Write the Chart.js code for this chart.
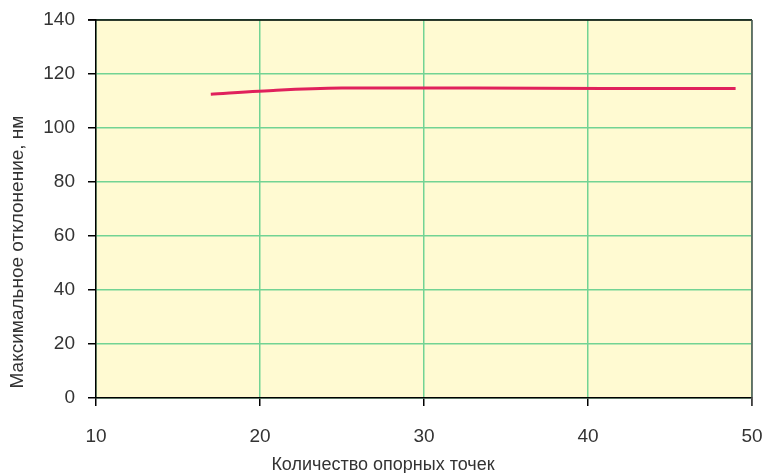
<!DOCTYPE html>
<html>
<head>
<meta charset="utf-8">
<script src="https://cdn.jsdelivr.net/npm/chart.js@4.4.0/dist/chart.umd.min.js"></script>
<style>
  body { margin: 0; background: #fff; }
  #c { display: block; }
</style>
</head>
<body>
<canvas id="c" width="766" height="473"></canvas>
<script>
// Number of reference points vs. max deviation
const pointCounts = [17, 21, 25, 33, 41, 49];
const maxDeviation = [112.5, 114, 114.8, 114.8, 114.6, 114.6];
const xTicks = [10, 20, 30, 40, 50];
const yTicks = [0, 20, 40, 60, 80, 100, 120, 140];
const xTitle = "Количество опорных точек";
const yTitle = "Максимальное отклонение, нм";

const font = "'Liberation Sans', sans-serif";
const gridGreen = "#72d394";

// background of plot area, top/right frame and axis titles
const frame = {
  id: "frame",
  beforeDraw(chart) {
    const { ctx, chartArea: a } = chart;
    ctx.save();
    ctx.fillStyle = "#fffad2";
    ctx.fillRect(a.left, a.top, a.right - a.left, a.bottom - a.top);
    ctx.restore();
  },
  afterDatasetsDraw(chart) {
    const { ctx, chartArea: a } = chart;
    ctx.save();
    ctx.lineWidth = 1.5;
    ctx.strokeStyle = "#000";
    ctx.beginPath();
    ctx.moveTo(a.left - 8, a.top);
    ctx.lineTo(a.right, a.top);
    ctx.stroke();
    ctx.strokeStyle = "#555";
    ctx.beginPath();
    ctx.moveTo(a.right, a.top);
    ctx.lineTo(a.right, a.bottom + 8);
    ctx.stroke();

    ctx.fillStyle = "#333";
    ctx.textAlign = "center";
    ctx.textBaseline = "middle";
    ctx.font = "18px " + font;
    ctx.fillText(xTitle, 383, 465);
    ctx.translate(18, 252);
    ctx.rotate(-Math.PI / 2);
    ctx.font = "19px " + font;
    ctx.fillText(yTitle, 0, 0);
    ctx.restore();
  },
};

new Chart(document.getElementById("c"), {
  type: "line",
  data: {
    datasets: [
      {
        data: pointCounts.map((x, i) => ({ x: x, y: maxDeviation[i] })),
        borderColor: "#e0215c",
        borderWidth: 3,
        pointRadius: 0,
        tension: 0.25,
      },
    ],
  },
  options: {
    responsive: false,
    animation: false,
    layout: { padding: 0 },
    plugins: { legend: { display: false }, tooltip: { enabled: false } },
    scales: {
      x: {
        type: "linear",
        min: 10,
        max: 50,
        afterBuildTicks: (s) => { s.ticks = xTicks.map((v) => ({ value: v })); },
        afterFit: (s) => { s.height = 75; s.paddingLeft = 0; s.paddingRight = 14; },
        ticks: { color: "#333", font: { family: font, size: 19 }, padding: 19, maxRotation: 0 },
        grid: { color: gridGreen, lineWidth: 1.5, tickColor: "#000", tickLength: 8 },
        border: { color: "#000", width: 1.5 },
      },
      y: {
        min: 0,
        max: 140,
        afterBuildTicks: (s) => { s.ticks = yTicks.map((v) => ({ value: v })); },
        afterFit: (s) => { s.width = 96; s.paddingTop = 20; s.paddingBottom = 0; },
        ticks: { color: "#333", font: { family: font, size: 19 }, padding: 13 },
        grid: { color: gridGreen, lineWidth: 1.5, tickColor: "#000", tickLength: 8 },
        border: { color: "#000", width: 1.5 },
      },
    },
  },
  plugins: [frame],
});
</script>
</body>
</html>
